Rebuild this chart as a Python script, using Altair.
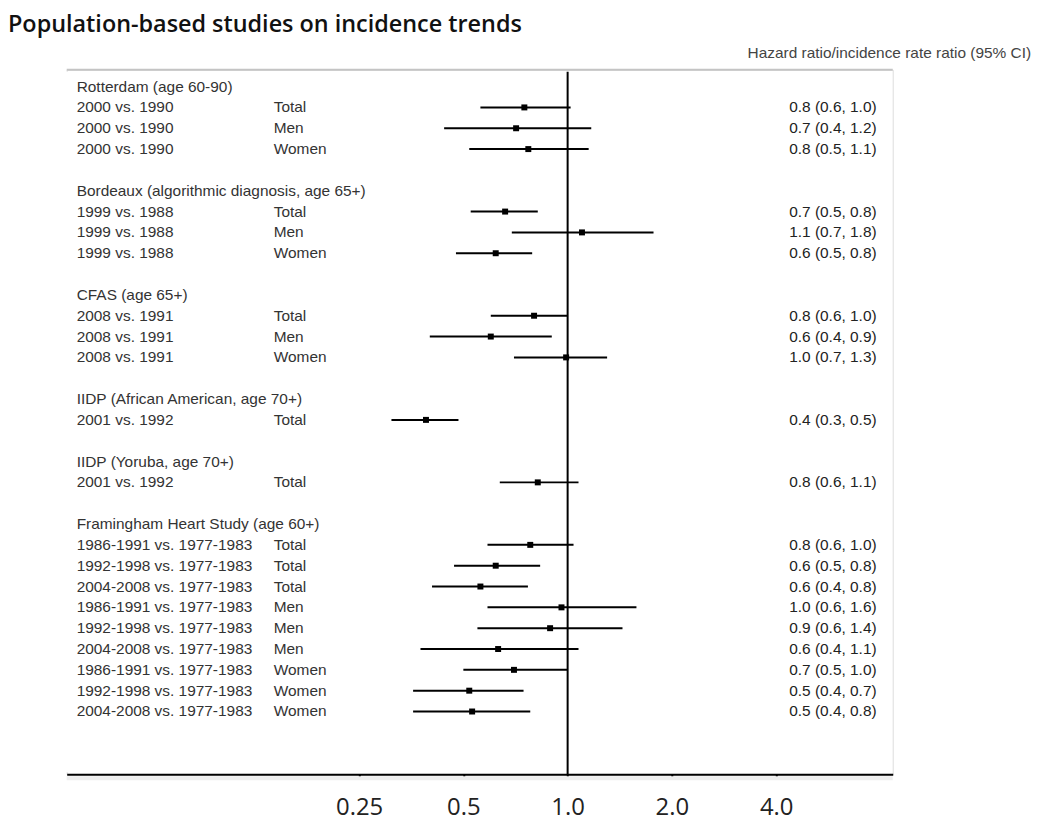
import altair as alt
import pandas as pd

TITLE = "Population-based studies on incidence trends"
HEADER = "Hazard ratio/incidence rate ratio (95% CI)"

STUDIES = [
    "Rotterdam (age 60-90)",
    "Bordeaux (algorithmic diagnosis, age 65+)",
    "CFAS (age 65+)",
    "IIDP (African American, age 70+)",
    "IIDP (Yoruba, age 70+)",
    "Framingham Heart Study (age 60+)",
]
STUDY_OF_ROW = [0, 0, 0, 1, 1, 1, 2, 2, 2, 3, 4, 5, 5, 5, 5, 5, 5, 5, 5, 5]
COMPARISONS = [
    "2000 vs. 1990", "2000 vs. 1990", "2000 vs. 1990",
    "1999 vs. 1988", "1999 vs. 1988", "1999 vs. 1988",
    "2008 vs. 1991", "2008 vs. 1991", "2008 vs. 1991",
    "2001 vs. 1992",
    "2001 vs. 1992",
    "1986-1991 vs. 1977-1983", "1992-1998 vs. 1977-1983", "2004-2008 vs. 1977-1983",
    "1986-1991 vs. 1977-1983", "1992-1998 vs. 1977-1983", "2004-2008 vs. 1977-1983",
    "1986-1991 vs. 1977-1983", "1992-1998 vs. 1977-1983", "2004-2008 vs. 1977-1983",
]
SUBGROUPS = [
    "Total", "Men", "Women",
    "Total", "Men", "Women",
    "Total", "Men", "Women",
    "Total",
    "Total",
    "Total", "Total", "Total", "Men", "Men", "Men", "Women", "Women", "Women",
]
EST = [0.75, 0.71, 0.77, 0.66, 1.10, 0.62, 0.80, 0.60, 0.99, 0.39, 0.82,
       0.78, 0.62, 0.56, 0.96, 0.89, 0.63, 0.70, 0.52, 0.53]
LO = [0.56, 0.44, 0.52, 0.525, 0.69, 0.476, 0.60, 0.40, 0.70, 0.31, 0.637,
      0.587, 0.47, 0.406, 0.587, 0.549, 0.376, 0.50, 0.358, 0.358]
HI = [1.02, 1.17, 1.15, 0.82, 1.77, 0.79, 1.00, 0.90, 1.30, 0.484, 1.075,
      1.04, 0.833, 0.768, 1.58, 1.44, 1.075, 1.00, 0.746, 0.78]
CI_TEXT = [
    "0.8 (0.6, 1.0)", "0.7 (0.4, 1.2)", "0.8 (0.5, 1.1)",
    "0.7 (0.5, 0.8)", "1.1 (0.7, 1.8)", "0.6 (0.5, 0.8)",
    "0.8 (0.6, 1.0)", "0.6 (0.4, 0.9)", "1.0 (0.7, 1.3)",
    "0.4 (0.3, 0.5)",
    "0.8 (0.6, 1.1)",
    "0.8 (0.6, 1.0)", "0.6 (0.5, 0.8)", "0.6 (0.4, 0.8)",
    "1.0 (0.6, 1.6)", "0.9 (0.6, 1.4)", "0.6 (0.4, 1.1)",
    "0.7 (0.5, 1.0)", "0.5 (0.4, 0.7)", "0.5 (0.4, 0.8)",
]
TICKS = [0.25, 0.5, 1.0, 2.0, 4.0]
TICK_LABELS = ["0.25", "0.5", "1.0", "2.0", "4.0"]
REF = [1.0]
X_DOMAIN = [0.0358, 8.68]

# ---- build row layout: header row per study, then its rows, then a blank row
rows = []
headers = []
r = 0
for s_idx, study in enumerate(STUDIES):
    headers.append({"row": r, "text": study})
    r += 1
    for i, s in enumerate(STUDY_OF_ROW):
        if s == s_idx:
            rows.append({"row": r, "comp": COMPARISONS[i], "sub": SUBGROUPS[i],
                         "est": EST[i], "lo": LO[i], "hi": HI[i], "ci": CI_TEXT[i]})
            r += 1
    r += 1
df = pd.DataFrame(rows)
hdf = pd.DataFrame(headers)
edge = pd.DataFrame({"a": [X_DOMAIN[0]], "b": [X_DOMAIN[1]]})

W, H = 830, 708
xscale = alt.Scale(type="log", base=2, domain=X_DOMAIN, nice=False)
yscale = alt.Scale(domain=[-0.812, 33.013], reverse=True, nice=False, zero=False)
Y = lambda: alt.Y("row:Q", scale=yscale, axis=None)

label_expr = " : ".join(
    f"datum.value == {v} ? '{l}'" for v, l in zip(TICKS, TICK_LABELS)
) + " : ''"

base = alt.Chart(df)

ci = base.mark_rule(color="black", strokeWidth=2).encode(
    x=alt.X("lo:Q", scale=xscale,
            axis=alt.Axis(values=TICKS, labelExpr=label_expr, title=None, grid=False,
                          domainColor="black", domainWidth=2, tickColor="black",
                          tickWidth=2, tickSize=5, labelPadding=16,
                          labelFont="Open Sans", labelFontSize=24, labelColor="#222")),
    x2="hi:Q",
    y=Y(),
)
pts = base.mark_point(shape="square", filled=True, size=36, color="black", opacity=1).encode(
    x=alt.X("est:Q", scale=xscale),
    y=Y(),
)

ref = alt.Chart(pd.DataFrame({"v": REF})).mark_rule(color="black", strokeWidth=2).encode(
    x=alt.X("v:Q", scale=xscale),
    y=alt.value(2), y2=alt.value(H),
)

top_line = alt.Chart(edge).mark_rule(color="#c4c4c4", strokeWidth=2).encode(
    x=alt.X("a:Q", scale=xscale), x2="b:Q", y=alt.value(0)
)
shadow = alt.Chart(edge).mark_rule(color="#eeeeee", strokeWidth=4).encode(
    x=alt.X("a:Q", scale=xscale), x2="b:Q", y=alt.value(H + 4)
)
# white mask over the left edge of the plot frame
mask = alt.Chart(edge).mark_rule(color="white", strokeWidth=4).encode(
    x=alt.value(0), y=alt.value(2), y2=alt.value(H - 2)
)

txt_font = "Liberation Sans"
FS = 15.5
comp_txt = base.mark_text(align="left", baseline="middle", font=txt_font, fontSize=FS, color="#333").encode(
    x=alt.value(10), y=Y(), text="comp:N"
)
sub_txt = base.mark_text(align="left", baseline="middle", font=txt_font, fontSize=FS, color="#333").encode(
    x=alt.value(208), y=Y(), text="sub:N"
)
ci_txt = base.mark_text(align="left", baseline="middle", font=txt_font, fontSize=15.5, color="#222").encode(
    x=alt.value(726), y=Y(), text="ci:N"
)
hdr_txt = alt.Chart(hdf).mark_text(align="left", baseline="middle", font=txt_font, fontSize=FS, color="#333").encode(
    x=alt.value(10), y=Y(), text="text:N"
)
col_hdr = alt.Chart(pd.DataFrame({"t": [HEADER]})).mark_text(
    align="right", baseline="middle", font=txt_font, fontSize=15.5, color="#444"
).encode(x=alt.value(969), y=alt.value(-17), text="t:N")
title = alt.Chart(pd.DataFrame({"t": [TITLE]})).mark_text(
    align="left", baseline="middle", font="Open Sans", fontSize=23.5, fontWeight=600, color="#111"
).encode(x=alt.value(-59), y=alt.value(-45), text="t:N")

chart = alt.layer(
    shadow, top_line, ref, ci, pts, comp_txt, sub_txt, ci_txt, hdr_txt, col_hdr, title, mask
).properties(
    width=W, height=H,
    padding={"left": 59, "top": 60, "right": 150, "bottom": 50},
    autosize=alt.AutoSizeParams(type="none"),
).configure_view(
    strokeWidth=0, stroke="transparent", strokeOpacity=0
).configure_axisY(
    domain=False, ticks=False, labels=False, grid=False
).configure_axis(grid=False).configure(background="white")

chart.save("out.html", embed_options={"renderer": "svg", "actions": False})
